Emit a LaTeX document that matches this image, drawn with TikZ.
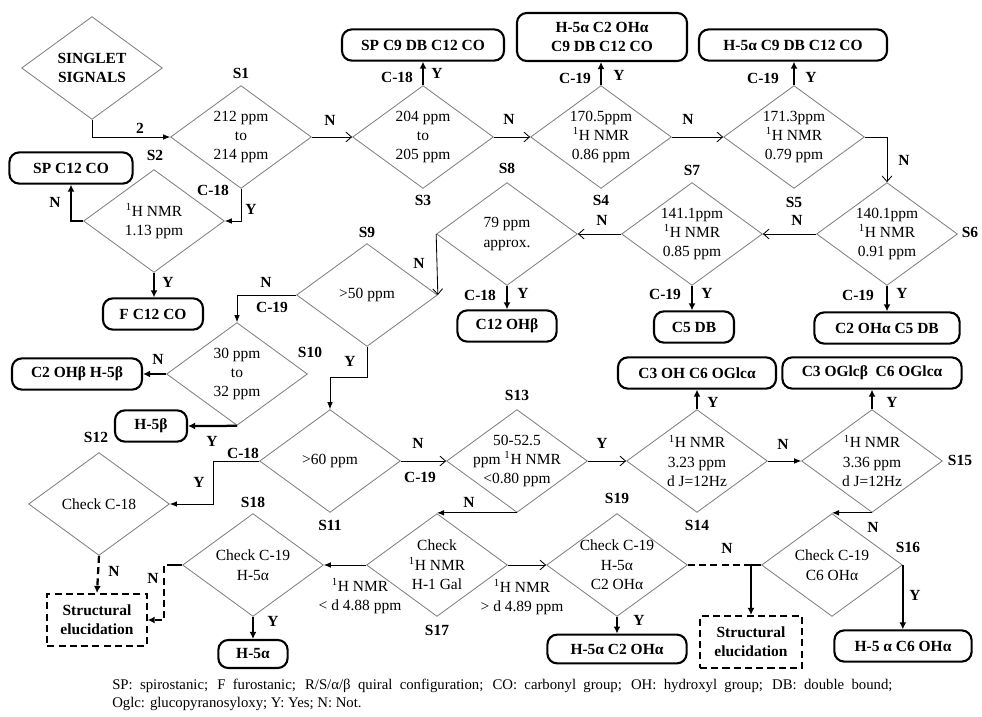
\documentclass[tikz,border=0pt]{standalone}
\usepackage{fontspec}
\setmainfont{Liberation Serif}
\usetikzlibrary{shapes.geometric, arrows.meta}
\definecolor{diagray}{HTML}{808080}

\begin{document}
\begin{tikzpicture}[
    x=0.025cm, y=-0.025cm,
    dia/.style={diamond, draw=diagray, line width=0.6pt,
                minimum width=3.52cm, minimum height=2.57cm, inner sep=0pt},
    dtxt/.style={align=center, inner sep=0pt, font=\fontsize{11}{13.8}\selectfont},
    res/.style={rectangle, draw, line width=1.5pt, rounded corners=7pt, fill=white,
                minimum height=0.78cm, inner sep=2pt, align=center,
                font=\fontsize{11}{13.8}\selectfont\bfseries},
    elu/.style={res, sharp corners, dash pattern=on 5pt off 3pt, minimum height=1.3cm},
    lab/.style={inner sep=0pt, font=\fontsize{11}{13}\selectfont\bfseries},
    note/.style={anchor=north west, inner sep=0pt, text width=19.5cm, align=justify,
                 font=\fontsize{10.5}{12.8}\selectfont},
    link/.style={line width=0.6pt, -{Straight Barb[length=4pt,width=7pt]}},
    linkf/.style={line width=0.6pt, -{Latex[length=5pt,width=4pt]}},
    heavy/.style={line width=1.6pt, -{Latex[length=5pt,width=5pt]}},
    heavyd/.style={heavy, dash pattern=on 5pt off 3pt},
    dashline/.style={line width=1.6pt, dash pattern=on 5pt off 3pt}
]
\useasboundingbox (0,0) rectangle (982,717);

% decisions
\node[dia] (sig) at (92,68) {};
\node[dtxt, font=\fontsize{11}{13.8}\selectfont\bfseries] (sig-t) at (sig) {SINGLET\\SIGNALS};
\node[dia] (s1) at (241,137) {};
\node[dtxt] (s1-t) at (s1) {212 ppm\\to\\214 ppm};
\node[dia] (s2) at (154,221) {};
\node[dtxt] (s2-t) at (s2) {\textsuperscript{1}H NMR\\1.13 ppm};
\node[dia] (s3) at (423,137) {};
\node[dtxt] (s3-t) at (s3) {204 ppm\\to\\205 ppm};
\node[dia] (s4) at (601,137) {};
\node[dtxt] (s4-t) at (s4) {170.5ppm\\\textsuperscript{1}H NMR\\0.86 ppm};
\node[dia] (s5) at (794,137) {};
\node[dtxt] (s5-t) at (s5) {171.3ppm\\\textsuperscript{1}H NMR\\0.79 ppm};
\node[dia] (s6) at (887,234) {};
\node[dtxt] (s6-t) at (s6) {140.1ppm\\\textsuperscript{1}H NMR\\0.91 ppm};
\node[dia] (s7) at (692,234) {};
\node[dtxt] (s7-t) at (s7) {141.1ppm\\\textsuperscript{1}H NMR\\0.85 ppm};
\node[dia] (s8) at (507,234) {};
\node[dtxt] (s8-t) at (s8) {79 ppm\\approx.};
\node[dia] (s9) at (367,295) {};
\node[dtxt] (s9-t) at (s9) {>50 ppm};
\node[dia] (s10) at (237,374) {};
\node[dtxt] (s10-t) at (s10) {30 ppm\\to\\32 ppm};
\node[dia] (s11) at (330,461) {};
\node[dtxt] (s11-t) at (s11) {>60 ppm};
\node[dia] (s12) at (99,504) {};
\node[dtxt] (s12-t) at (s12) {Check C-18};
\node[dia] (s13) at (517,461) {};
\node[dtxt] (s13-t) at (s13) {50-52.5\\ppm \textsuperscript{1}H NMR\\<0.80 ppm};
\node[dia] (s14) at (697,461) {};
\node[dtxt] (s14-t) at (s14) {\textsuperscript{1}H NMR\\3.23 ppm\\d J=12Hz};
\node[dia] (s15) at (872,461) {};
\node[dtxt] (s15-t) at (s15) {\textsuperscript{1}H NMR\\3.36 ppm\\d J=12Hz};
\node[dia] (s16) at (832,565) {};
\node[dtxt] (s16-t) at (s16) {Check C-19\\C6 OHα};
\node[dia] (s17) at (437,565) {};
\node[dtxt] (s17-t) at (s17) {Check\\\textsuperscript{1}H NMR\\H-1 Gal};
\node[dia] (s18) at (253,565) {};
\node[dtxt] (s18-t) at (s18) {Check C-19\\H-5α};
\node[dia] (s19) at (617,565) {};
\node[dtxt] (s19-t) at (s19) {Check C-19\\H-5α\\C2 OHα};

% step names
\node[lab] (l1) at (241,73) {S1};
\node[lab] (l2) at (155,155) {S2};
\node[lab] (l3) at (423,200) {S3};
\node[lab] (l4) at (601,200) {S4};
\node[lab] (l5) at (794,202) {S5};
\node[lab] (l6) at (970,232) {S6};
\node[lab] (l7) at (692,170) {S7};
\node[lab] (l8) at (507,168) {S8};
\node[lab] (l9) at (367,232) {S9};
\node[lab] (l10) at (310,352) {S10};
\node[lab] (l11) at (330,525) {S11};
\node[lab] (l12) at (96,437) {S12};
\node[lab] (l13) at (517,395) {S13};
\node[lab] (l14) at (697,525) {S14};
\node[lab] (l15) at (960,460) {S15};
\node[lab] (l16) at (908,547) {S16};
\node[lab] (l17) at (437,630) {S17};
\node[lab] (l18) at (253,502) {S18};
\node[lab] (l19) at (617,498) {S19};

% results
\node[res, minimum width=3.08cm] (sp12) at (71,168) {SP C12 CO};
\node[res, minimum width=2.5cm] (f12) at (153,314) {F C12 CO};
\node[res, minimum width=4.05cm] (sp9) at (423,45) {SP C9 DB C12 CO};
\node[res, minimum width=4.25cm, minimum height=1.2cm] (h5c2) at (602,37) {H-5α C2 OHα\\C9 DB C12 CO};
\node[res, minimum width=4.7cm] (h5c9) at (793,45) {H-5α C9 DB C12 CO};
\node[res, minimum width=2.48cm] (c12oh) at (507,326) {C12 OHβ};
\node[res, minimum width=2cm] (c5db) at (694,327) {C5 DB};
\node[res, minimum width=3.63cm] (c2c5) at (887,328) {C2 OHα C5 DB};
\node[res, minimum width=3.25cm] (c2h5b) at (77,374) {C2 OHβ H-5β};
\node[res, minimum width=1.8cm] (h5b) at (151,426) {H-5β};
\node[res, minimum width=3.95cm] (c3oh) at (697,373) {C3 OH C6 OGlcα};
\node[res, minimum width=4.48cm] (c3gl) at (872,373) {C3 OGlcβ\ \ C6 OGlcα};
\node[res, minimum width=1.73cm, minimum height=0.7cm] (h5a) at (253,654) {H-5α};
\node[res, minimum width=3.48cm, minimum height=0.72cm] (h5c2b) at (617,649) {H-5α C2 OHα};
\node[res, minimum width=3.43cm] (h5c6) at (903,646) {H-5 α C6 OHα};
\node[elu, minimum width=2.48cm] (elu1) at (97,620) {Structural\\elucidation};
\node[elu, minimum width=2.55cm] (elu2) at (751,642) {Structural\\elucidation};
\coordinate (j2) at (751,565);

% connectors
\draw[linkf] (sig.south) |- (s1.west);
\draw[link] (s1.east) -- (s3.west);
\draw[linkf] (s1.south) |- (s2.east);
\draw[heavy] (s2.west) -| (sp12.south);
\draw[heavy] (s2.south) -- (s2.south |- f12.north);
\draw[heavy] (s3.north) -- (sp9.south);
\draw[link] (s3.east) -- (s4.west);
\draw[heavy] (s4.north) -- (s4.north |- h5c2.south);
\draw[link] (s4.east) -- (s5.west);
\draw[heavy] (s5.north) -- (s5.north |- h5c9.south);
\draw[link] (s5.east) -| (s6.north);
\draw[link] (s6.west) -- (s7.east);
\draw[heavy] (s6.south) -- (c2c5.north);
\draw[link] (s7.west) -- (s8.east);
\draw[heavy] (s7.south) -- (s7.south |- c5db.north);
\draw[heavy] (s8.south) -- (c12oh.north);
\draw[link] (s8.west) -- (s9.east);
\draw[linkf] (s9.west) -| (s10.north);
\draw[linkf] (s9.south) -- ++(0,31) -| (s11.north);
\draw[heavy] (s10.west) -- (c2h5b.east);
\draw[heavy] (s10.south) -- (h5b.east);
\draw[linkf] (s11.west) -- ++(-46,0) |- (s12.east);
\draw[link] (s11.east) -- (s13.west);
\draw[heavyd] (s12.south) -- (elu1.north);
\draw[link] (s13.east) -- (s14.west);
\draw[linkf] (s13.south) -- (s13.south -| s17.north);
\draw[heavy] (s14.north) -- (c3oh.south);
\draw[linkf] (s14.east) -- (s15.west);
\draw[heavy] (s15.north) -- (c3gl.south);
\draw[linkf] (s15.south) -- (s15.south -| s16.north);
\draw[heavy] (s16.east) -- (s16.east |- h5c6.north);
\draw[line width=1.6pt] (s16.west) -- (j2);
\draw[heavy] (j2) -- (elu2.north);
\draw[dashline] (s19.east) -- (j2);
\draw[linkf] (s17.west) -- (s18.east);
\draw[link] (s17.east) -- (s19.west);
\draw[heavy] (s18.south) -- (h5a.north);
\draw[line width=1.6pt] (s18.west) -- ++(-8,0) coordinate (j1);
\draw[heavyd] (j1) -- ++(-10,0) |- (elu1.east);
\draw[heavy] (s19.south) -- (h5c2b.north);

% connector labels
\node[lab] (t2) at (140,128) {2};
\node[lab] (n1) at (330,120) {N};
\node[lab] (c1) at (213,190) {C-18};
\node[lab] (y1) at (251,209) {Y};
\node[lab] (n2) at (55,202) {N};
\node[lab] (y2) at (168,282) {Y};
\node[lab] (c3) at (397,77) {C-18};
\node[lab] (y3) at (437,73) {Y};
\node[lab] (n3) at (509,119) {N};
\node[lab] (c4) at (575,78) {C-19};
\node[lab] (y4) at (619,75) {Y};
\node[lab] (n4) at (688,119) {N};
\node[lab] (c5) at (763,78) {C-19};
\node[lab] (y5) at (811,77) {Y};
\node[lab] (n5) at (904,160) {N};
\node[lab] (n6) at (797,220) {N};
\node[lab] (c6) at (858,295) {C-19};
\node[lab] (y6) at (902,293) {Y};
\node[lab] (n7) at (602,220) {N};
\node[lab] (c7) at (665,294) {C-19};
\node[lab] (y7) at (707,293) {Y};
\node[lab] (c8) at (480,295) {C-18};
\node[lab] (y8) at (523,293) {Y};
\node[lab] (n8) at (419,263) {N};
\node[lab] (n9) at (266,282) {N};
\node[lab] (c9) at (272,307) {C-19};
\node[lab] (y9) at (350,361) {Y};
\node[lab] (n10) at (158,359) {N};
\node[lab] (y10) at (212,441) {Y};
\node[lab] (c11) at (243,453) {C-18};
\node[lab] (y11) at (199,482) {Y};
\node[lab] (n11) at (418,443) {N};
\node[lab] (c11b) at (420,477) {C-19};
\node[lab] (n12) at (114,571) {N};
\node[lab] (y13) at (602,443) {Y};
\node[lab] (n13) at (469,502) {N};
\node[lab] (y14) at (713,402) {Y};
\node[lab] (n14) at (783,444) {N};
\node[lab] (y15) at (892,402) {Y};
\node[lab] (n15) at (873,527) {N};
\node[lab] (y16) at (915,595) {Y};
\node[lab] (n19) at (727,548) {N};
\node[lab] (n18) at (153,578) {N};
\node[lab] (y18) at (273,621) {Y};
\node[lab] (y19) at (639,620) {Y};
\node[dtxt] (d17a) at (360,596) {\textsuperscript{1}H NMR\\< d 4.88 ppm};
\node[dtxt] (d17b) at (522,597) {\textsuperscript{1}H NMR\\> d 4.89 ppm};

% legend
\node[note] (legend) at (112,679) {SP: spirostanic; F furostanic; R/S/α/β quiral configuration; CO: carbonyl group; OH: hydroxyl group; DB: double bound;\linebreak Oglc: glucopyranosyloxy; Y: Yes; N: Not.};
\end{tikzpicture}
\end{document}
